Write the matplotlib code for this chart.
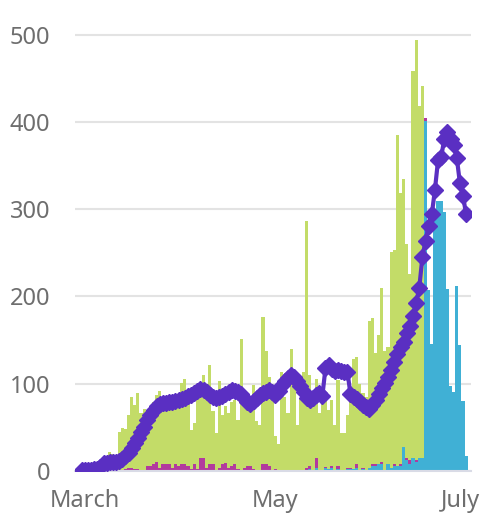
import numpy as np
import matplotlib
matplotlib.use('Agg')
import matplotlib.pyplot as plt
import matplotlib.transforms as mtransforms

plt.rcParams['font.family'] = ['Noto Sans', 'DejaVu Sans']

# daily values, Feb 29 .. Jul 1 (124 days)
green = [0, 1, 1, 2, 2, 3, 5, 8, 10, 22,
	20, 15, 45, 49, 46, 61, 82, 74, 87, 65,
	70, 62, 43, 71, 77, 89, 71, 77, 77, 83,
	79, 81, 93, 97, 79, 45, 47, 80, 70, 95,
	97, 113, 61, 42, 100, 56, 65, 64, 73, 73,
	57, 150, 78, 72, 70, 97, 56, 52, 168, 129,
	102, 98, 38, 30, 114, 84, 66, 139, 111, 53,
	83, 114, 283, 104, 84, 90, 66, 80, 76, 68,
	75, 52, 98, 43, 42, 61, 93, 126, 123, 99,
	86, 84, 168, 167, 127, 148, 200, 136, 134, 247,
	245, 379, 311, 308, 245, 213, 443, 481, 403, 426,
	0, 0, 0, 0, 0, 0, 0, 0, 0, 0,
	0, 0, 0, 0]

magenta = [0, 0, 0, 0, 0, 0, 0, 0, 0, 0,
	0, 0, 0, 0, 2, 3, 3, 2, 2, 1,
	1, 6, 6, 8, 10, 3, 8, 8, 8, 3,
	8, 6, 8, 8, 6, 2, 8, 2, 15, 15,
	3, 8, 8, 1, 3, 8, 8, 3, 6, 8,
	2, 1, 3, 6, 6, 2, 1, 1, 8, 8,
	6, 1, 2, 1, 0, 1, 0, 1, 1, 0,
	0, 0, 3, 4, 1, 11, 0, 1, 2, 0,
	3, 0, 4, 0, 1, 1, 1, 0, 5, 0,
	1, 0, 0, 2, 2, 0, 2, 0, 0, 0,
	2, 0, 2, 0, 2, 5, 0, 3, 0, 0,
	3, 0, 0, 0, 0, 0, 0, 0, 0, 0,
	0, 0, 0, 0]

cyan = [0, 0, 0, 0, 0, 0, 0, 0, 0, 0,
	0, 0, 0, 0, 0, 0, 0, 0, 0, 0,
	0, 0, 0, 0, 0, 0, 0, 0, 0, 0,
	0, 0, 0, 0, 0, 0, 0, 0, 0, 0,
	0, 0, 0, 0, 0, 0, 1, 0, 0, 0,
	0, 0, 0, 0, 0, 0, 0, 0, 0, 0,
	0, 0, 0, 0, 0, 0, 0, 0, 0, 0,
	0, 0, 0, 2, 0, 4, 0, 0, 3, 2,
	3, 1, 2, 0, 0, 2, 2, 2, 3, 1,
	2, 1, 4, 6, 6, 8, 8, 1, 8, 4,
	6, 6, 6, 27, 13, 8, 15, 10, 15, 15,
	401, 207, 146, 300, 309, 309, 297, 209, 97, 90,
	212, 144, 80, 17]

avg = [1, 1, 1, 1, 2, 2, 5, 9, 9, 10,
	10, 10, 12, 14, 17, 21, 26, 32, 38, 45,
	51, 58, 64, 70, 74, 77, 78, 78, 79, 79,
	80, 81, 82, 84, 86, 87, 89, 92, 94, 93,
	90, 87, 85, 84, 85, 86, 88, 91, 93, 92,
	90, 88, 84, 79, 77, 80, 84, 87, 89, 91,
	93, 90, 87, 92, 99, 103, 107, 110, 108, 103,
	97, 91, 84, 81, 84, 87, 89, 86, 118, 121,
	117, 115, 116, 115, 113, 114, 88, 85, 82, 79,
	76, 73, 71, 76, 81, 88, 95, 101, 108, 116,
	125, 134, 142, 148, 158, 166, 178, 192, 210, 245,
	264, 281, 294, 322, 356, 360, 380, 389, 381, 374,
	359, 330, 315, 294]

tick_days = [1, 62, 123]
tick_labels = ['March', 'May', 'July']

x = np.arange(len(green))
cyan = np.array(cyan)
magenta = np.array(magenta)
green = np.array(green)

fig = plt.figure(figsize=(4.82, 5.16), dpi=100)
ax = fig.add_axes([75/482, 45/516, 396/482, 445/516])

ax.bar(x, cyan, width=1.0, color='#40b0d5', linewidth=0)
ax.bar(x, magenta, bottom=cyan, width=1.0, color='#b23a9e', linewidth=0)
ax.bar(x, green, bottom=cyan + magenta, width=1.0, color='#c3dc68', linewidth=0)
ax.plot(x, avg, color='#5a2fc2', lw=3, marker='D', ms=8, mec='#5a2fc2', zorder=5)

ax.set_xlim(-2.13, 124.55)
ax.set_ylim(0, 510)
ax.set_yticks([0, 100, 200, 300, 400, 500])
ax.set_xticks(tick_days)
ax.set_xticklabels(tick_labels)
ax.grid(axis='y', color='#e3e3e3', lw=1.5)
ax.set_axisbelow(True)
for s in ['top', 'right', 'left']:
	ax.spines[s].set_visible(False)
ax.spines['bottom'].set_color('#d9dbe6')
ax.spines['bottom'].set_linewidth(1.5)
ax.tick_params(axis='both', length=0, labelsize=17, colors='#6e6e6e')
ax.tick_params(axis='y', pad=18)
ax.tick_params(axis='x', pad=13)

# keep "July" inside the figure
lab = ax.get_xticklabels()[-1]
lab.set_transform(lab.get_transform() + mtransforms.ScaledTranslation(-0.06, 0, fig.dpi_scale_trans))

fig.savefig('out.png', dpi=100)
